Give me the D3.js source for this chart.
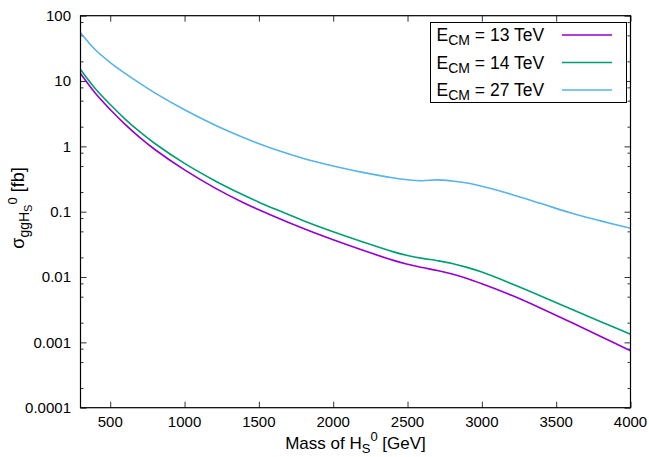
<!DOCTYPE html>
<html><head><meta charset="utf-8">
<script src="https://cdnjs.cloudflare.com/ajax/libs/d3/7.8.5/d3.min.js"></script>
<style>
html,body{margin:0;padding:0;background:#fff;}
svg{display:block;font-family:"Liberation Sans",Arial,sans-serif;}
</style></head>
<body><svg id="c" width="649" height="457"></svg>
<script>
const masses = [300,400,500,600,700,800,1000,1200,1400,1500,1600,1800,2000,2200,2400,2500,2600,2700,2800,2900,3000,3200,3400,3600,3800,4000];
const sigma13 = [13.0,6.49,3.66,2.17,1.36,0.895,0.436,0.234,0.136,0.107,0.0851,0.0552,0.0371,0.0256,0.01815,0.01567,0.01396,0.01259,0.01109,0.0095,0.00789,0.00525,0.00331,0.00203,0.00123,0.000745];
const sigma14 = [15.0,7.62,4.37,2.62,1.66,1.107,0.548,0.301,0.178,0.140,0.112,0.0728,0.0493,0.0344,0.0245,0.0214,0.0193,0.0178,0.01614,0.01406,0.0119,0.0079,0.0051,0.00324,0.00207,0.00133];
const sigma27 = [55,30.1,19.2,13.1,9.2,6.6,3.63,2.14,1.35,1.1,0.91,0.653,0.50,0.40,0.33,0.308,0.298,0.307,0.295,0.275,0.245,0.184,0.133,0.0955,0.0724,0.0557];
const seriesNames = ["13","14","27"];
const seriesColors = ["#9400d3","#009e73","#56b4e9"];
const xTicks = [500,1000,1500,2000,2500,3000,3500,4000];
const yTicks = [0.0001,0.001,0.01,0.1,1,10,100];
const yTickLabels = ["0.0001","0.001","0.01","0.1","1","10","100"];

const svg = d3.select("#c");
const L=80.5, R=630.5, T=15.7, B=407.7;
const x = d3.scaleLinear().domain([300,4000]).range([L,R]);
const y = d3.scaleLog().domain([0.0001,100]).range([B,T]);

const minor=[];
for(let e=-4;e<2;e++){ [2,5,8].forEach(k=>minor.push(k*Math.pow(10,e))); }

const g = svg.append("g");
g.append("g").attr("transform",`translate(${L},0)`).call(d3.axisRight(y).tickValues(yTicks).tickSize(6).tickFormat(""));
g.append("g").attr("transform",`translate(${L},0)`).call(d3.axisRight(y).tickValues(minor).tickSize(3).tickFormat(""));
g.append("g").attr("transform",`translate(${R},0)`).call(d3.axisLeft(y).tickValues(yTicks).tickSize(6).tickFormat(""));
g.append("g").attr("transform",`translate(${R},0)`).call(d3.axisLeft(y).tickValues(minor).tickSize(3).tickFormat(""));
g.append("g").attr("transform",`translate(0,${B})`).call(d3.axisTop(x).tickValues(xTicks).tickSize(6).tickFormat(""));
g.append("g").attr("transform",`translate(0,${T})`).call(d3.axisBottom(x).tickValues(xTicks).tickSize(6).tickFormat(""));
g.selectAll(".domain").remove();
g.selectAll(".tick line").attr("stroke","#333").attr("stroke-width",1);

const lab = svg.append("g").attr("font-size",15).attr("fill","#000");
yTicks.forEach((v,i)=>{
  lab.append("text").attr("x",71).attr("y",y(v)).attr("dy","0.35em").attr("text-anchor","end").text(yTickLabels[i]);
});
xTicks.forEach(v=>{
  lab.append("text").attr("x",x(v)).attr("y",427).attr("text-anchor","middle").text(String(v));
});

const line = d3.line().x(d=>x(d[0])).y(d=>y(d[1])).curve(d3.curveCatmullRom.alpha(0.5));
[sigma13,sigma14,sigma27].forEach((s,i)=>{
  svg.append("path").datum(masses.map((m,j)=>[m,s[j]]))
    .attr("d",line).attr("fill","none").attr("stroke",seriesColors[i]).attr("stroke-width",1.6);
});

svg.append("rect").attr("x",L).attr("y",T).attr("width",R-L).attr("height",B-T)
  .attr("fill","none").attr("stroke","#000").attr("stroke-width",1.2);

const lg = svg.append("g");
lg.append("rect").attr("x",430.5).attr("y",22.5).attr("width",196).attr("height",80)
  .attr("fill","#fff").attr("stroke","#000").attr("stroke-width",1);
const rowsY=[35,62.5,90];
seriesNames.forEach((n,i)=>{
  const t = lg.append("text").attr("x",436.5).attr("y",rowsY[i]+6).attr("font-size",17.5);
  t.append("tspan").text("E");
  t.append("tspan").attr("font-size",14).attr("dy",4).text("CM");
  t.append("tspan").attr("dy",-4).text(" = "+n+" TeV");
  lg.append("line").attr("x1",562).attr("x2",612).attr("y1",rowsY[i]).attr("y2",rowsY[i])
    .attr("stroke",seriesColors[i]).attr("stroke-width",1.6);
});

const xl = svg.append("text").attr("x",355.5).attr("y",449).attr("text-anchor","middle").attr("font-size",17);
xl.append("tspan").text("Mass of H");
xl.append("tspan").attr("font-size",13).attr("dy",4).text("S");
xl.append("tspan").attr("font-size",13).attr("dy",-12).text("0");
xl.append("tspan").attr("dy",8).text(" [GeV]");

const yl = svg.append("text").attr("transform",`translate(24,208) rotate(-90)`).attr("text-anchor","middle").attr("font-size",18);
yl.append("tspan").text("σ");
yl.append("tspan").attr("font-size",14).attr("dy",5).text("ggH");
yl.append("tspan").attr("font-size",11).attr("dy",3).text("S");
yl.append("tspan").attr("font-size",13).attr("dy",-15).text("0");
yl.append("tspan").attr("dy",7).text(" [fb]");
</script></body></html>
